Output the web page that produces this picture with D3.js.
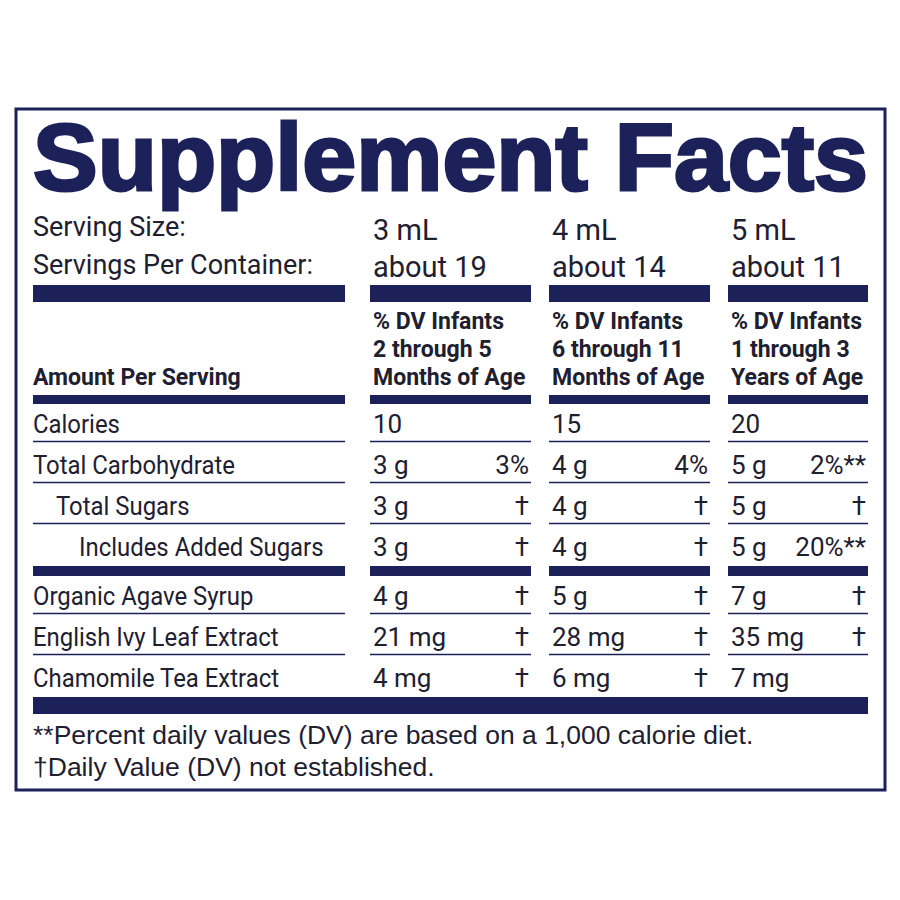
<!DOCTYPE html>
<html><head><meta charset="utf-8">
<script src="https://cdn.jsdelivr.net/npm/d3@7"></script>
<style>body{margin:0;background:#fff}</style></head>
<body><svg id="c" width="900" height="900"></svg>
<script>
const navy="#1c2159";
const columns=["3 mL","4 mL","5 mL"];
const servings=["about 19","about 14","about 11"];
const headers=[["% DV Infants","2 through 5","Months of Age"],["% DV Infants","6 through 11","Months of Age"],["% DV Infants","1 through 3","Years of Age"]];
const rowLabels=["Calories","Total Carbohydrate","Total Sugars","Includes Added Sugars","Organic Agave Syrup","English Ivy Leaf Extract","Chamomile Tea Extract"];
const rowIndent=[0,0,1,2,0,0,0];
const amounts=[["10","15","20"],["3 g","4 g","5 g"],["3 g","4 g","5 g"],["3 g","4 g","5 g"],["4 g","5 g","7 g"],["21 mg","28 mg","35 mg"],["4 mg","6 mg","7 mg"]];
const dvs=[["","",""],["3%","4%","2%**"],["†","†","†"],["†","†","20%**"],["†","†","†"],["†","†","†"],["†","†",""]];
const footnotes=["**Percent daily values (DV) are based on a 1,000 calorie diet.","†Daily Value (DV) not established."];

const svg=d3.select("#c");
const F="Roboto, 'Liberation Sans', sans-serif";
svg.append("rect").attr("x",16).attr("y",109).attr("width",869).attr("height",681).attr("fill","none").attr("stroke",navy).attr("stroke-width",3);
svg.append("text").attr("x",33).attr("y",190).attr("font-family","'Liberation Sans',Arial,sans-serif").attr("font-weight",900).attr("font-size",94).attr("fill",navy).attr("textLength",835).attr("lengthAdjust","spacingAndGlyphs").attr("stroke",navy).attr("stroke-width",3).text("Supplement Facts");

const colX=d3.scaleOrdinal().domain([0,1,2]).range([370,549,728]);
const colW=[161,161,140];
const labelX0=33,labelX1=345;
const g=svg.append("g").attr("fill","#1e2030").attr("font-family",F);
g.append("text").attr("x",33).attr("y",236).attr("font-size",27).text("Serving Size:");
g.append("text").attr("x",33).attr("y",274).attr("font-size",27).text("Servings Per Container:");
columns.forEach((c,i)=>{
 g.append("text").attr("x",colX(i)+3).attr("y",240).attr("font-size",29).text(c);
 g.append("text").attr("x",colX(i)+3).attr("y",277).attr("font-size",29).text(servings[i]);
});
function bar(y,h,seg){
 const segs=seg?[[labelX0,labelX1-labelX0]].concat([0,1,2].map(i=>[colX(i),colW[i]])):[[labelX0,868-labelX0]];
 segs.forEach(s=>svg.append("rect").attr("x",s[0]).attr("y",y).attr("width",s[1]).attr("height",h).attr("fill",navy));
}
bar(285,17,true);
headers.forEach((h,i)=>h.forEach((t,j)=>g.append("text").attr("x",colX(i)+3).attr("y",329+j*28).attr("font-size",24).attr("font-weight","bold").attr("transform",`translate(${colX(i)+3},0) scale(0.96,1) translate(${-(colX(i)+3)},0)`).text(t)));
g.append("text").attr("x",33).attr("y",385).attr("font-size",24).attr("font-weight","bold").attr("transform","translate(33,0) scale(0.96,1) translate(-33,0)").text("Amount Per Serving");
bar(395,9,true);
const rowY=d3.scaleLinear().domain([0,1]).range([433,474]);
const base=i=>rowY(i)+(i>=4?8:0);
rowLabels.forEach((l,i)=>{
 const y=base(i);
 g.append("text").attr("x",33+rowIndent[i]*23).attr("y",y).attr("font-size",26).attr("transform",`translate(${33+rowIndent[i]*23},0) scale(0.92,1) translate(${-(33+rowIndent[i]*23)},0)`).text(l);
 [0,1,2].forEach(c=>{
  g.append("text").attr("x",colX(c)+3).attr("y",y).attr("font-size",26).text(amounts[i][c]);
  g.append("text").attr("x",colX(c)+colW[c]-2).attr("y",y).attr("font-size",26).attr("text-anchor","end").text(dvs[i][c]);
 });
 if(i!==3&&i!==6){
  const ly=y+8.5;
  [[labelX0,labelX1]].concat([0,1,2].map(c=>[colX(c),colX(c)+colW[c]])).forEach(s=>
   svg.append("line").attr("x1",s[0]).attr("x2",s[1]).attr("y1",ly).attr("y2",ly).attr("stroke",navy).attr("stroke-width",1.5));
 }
});
bar(566,10,true);
bar(697,17,false);
footnotes.forEach((t,i)=>g.append("text").attr("x",33).attr("y",744+i*32).attr("font-family","'Liberation Sans',Arial,sans-serif").attr("font-size",26.5).text(t));
</script></body></html>
